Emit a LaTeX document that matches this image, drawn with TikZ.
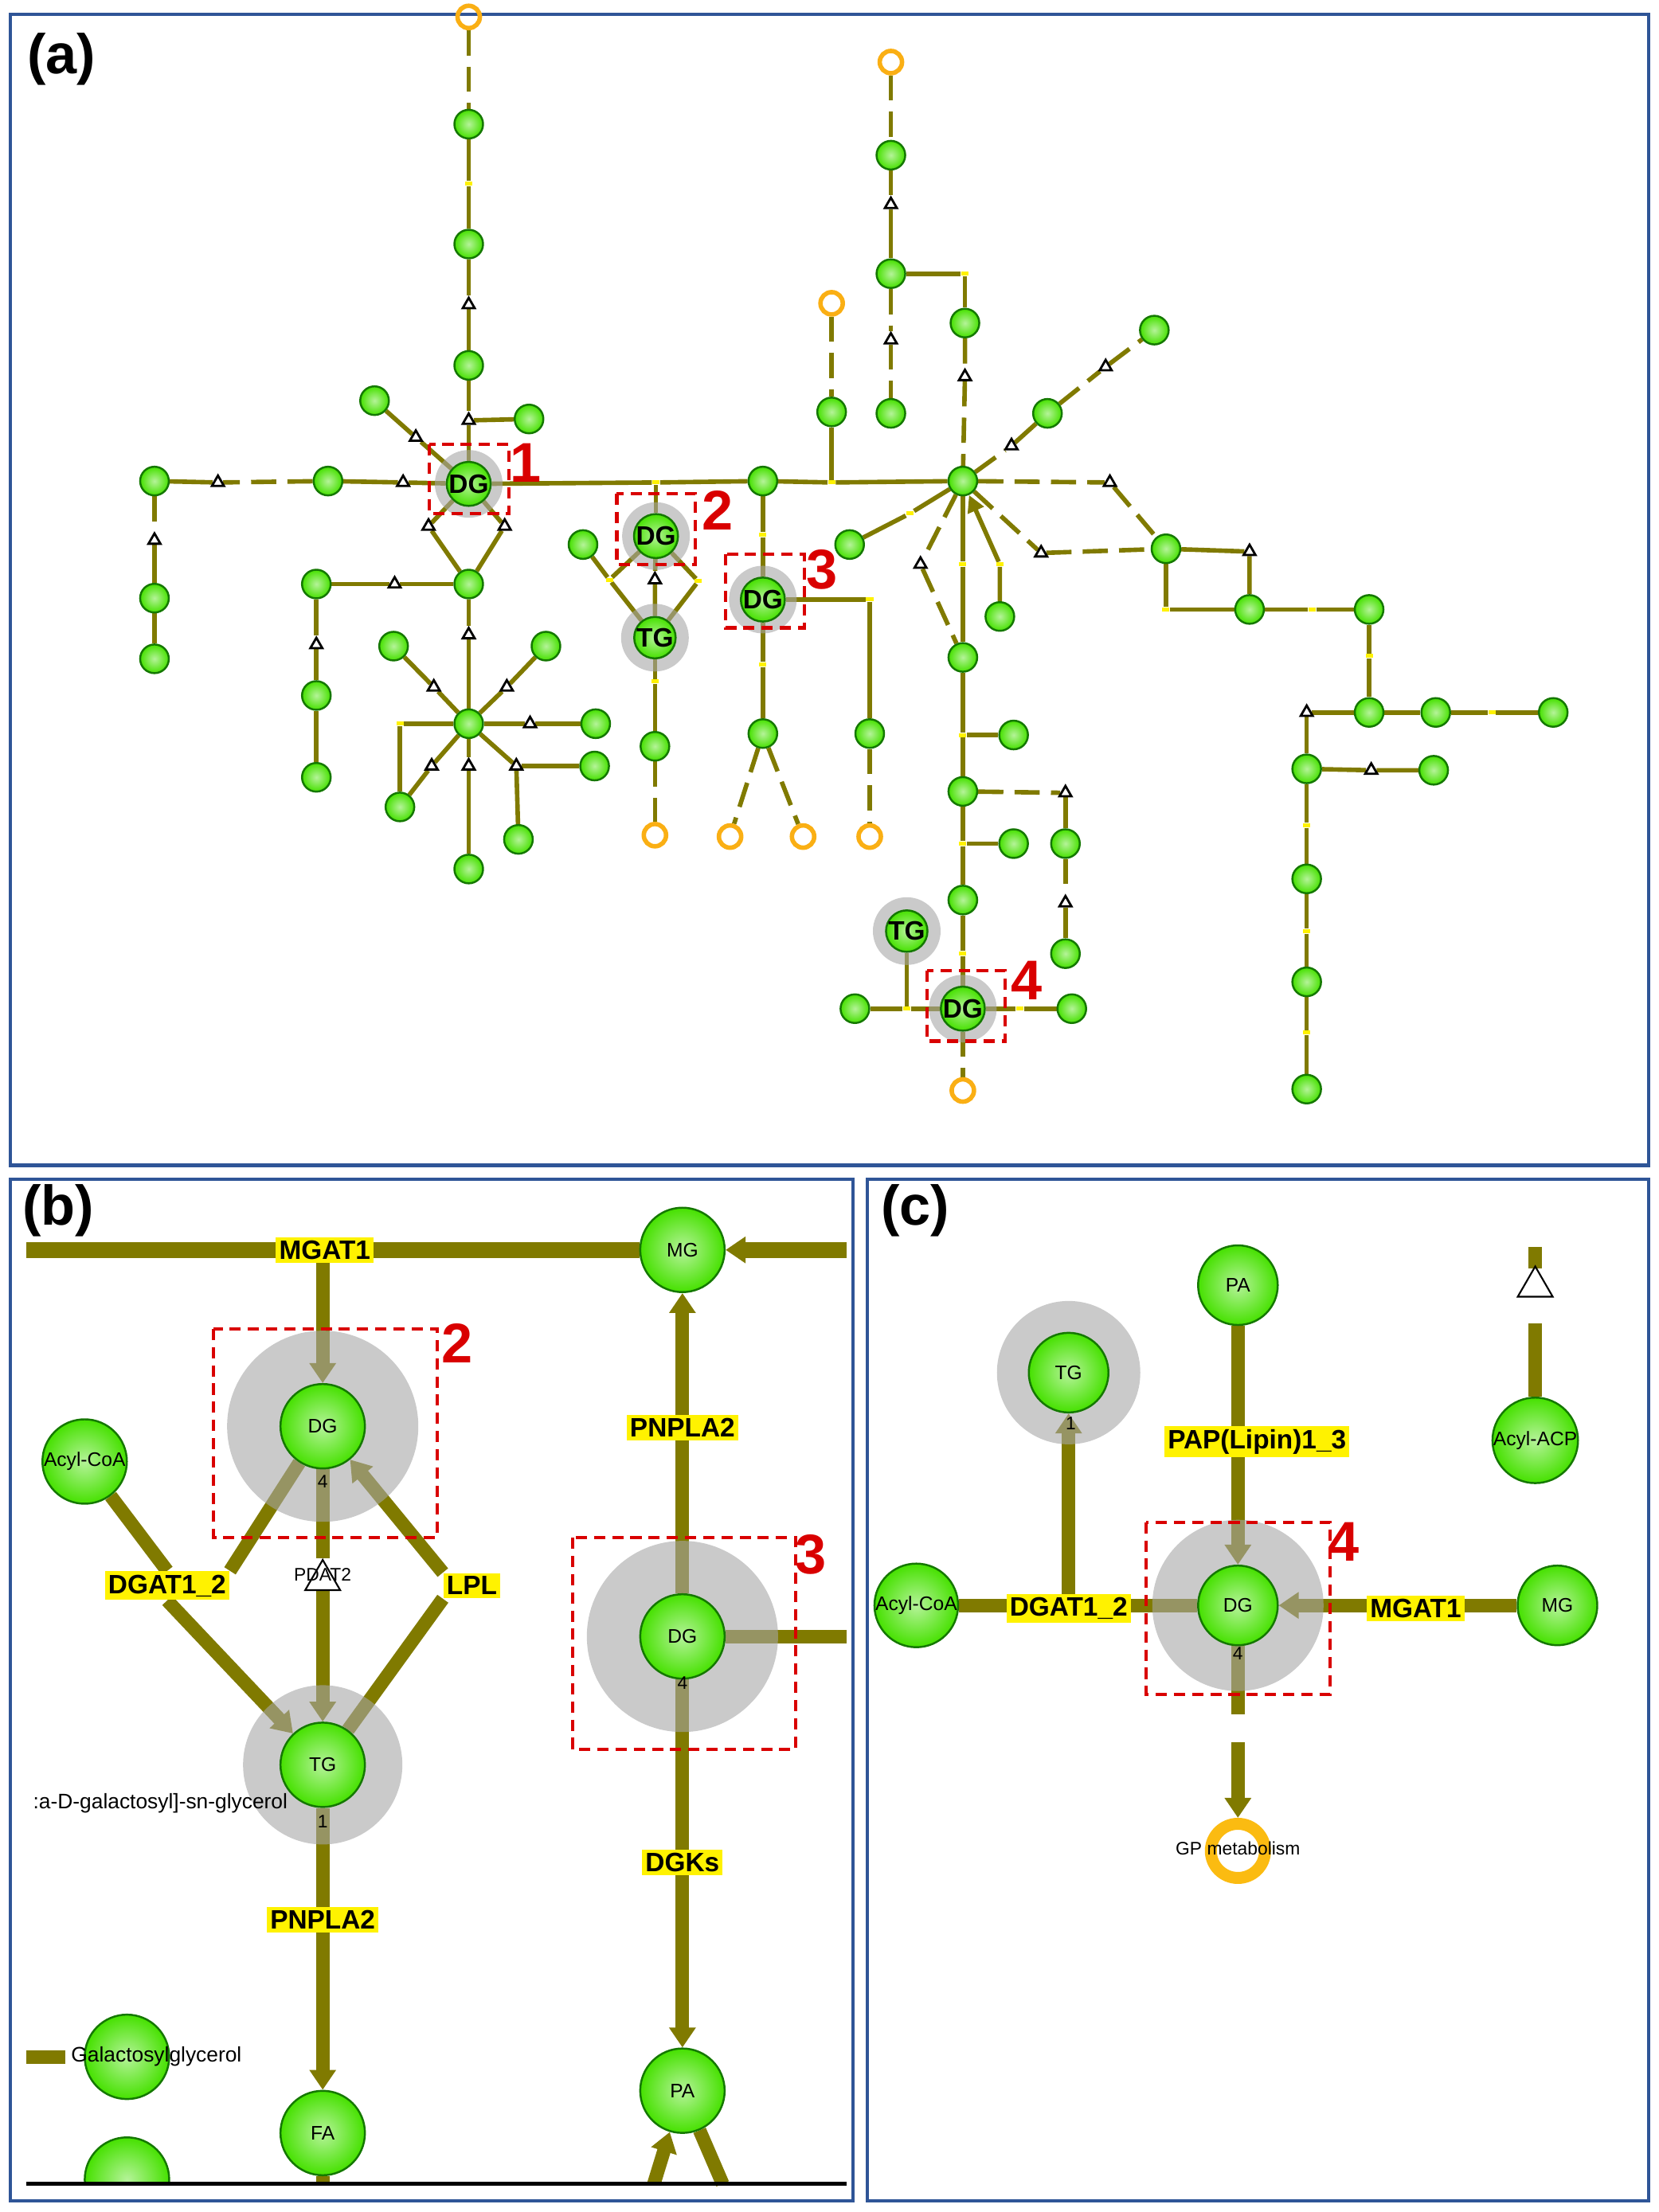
\documentclass[tikz,border=0pt]{standalone}
\usepackage{fontspec}
\setmainfont{Liberation Sans}
\usetikzlibrary{shapes.geometric,arrows.meta,backgrounds}
\definecolor{ol}{RGB}{128,122,0}
\definecolor{bbl}{RGB}{47,85,151}
\definecolor{gfill}{RGB}{70,225,0}
\definecolor{gdraw}{RGB}{20,120,0}
\definecolor{orng}{RGB}{250,175,20}
\tikzset{
 gn/.style={circle,minimum size=0.36cm,inner sep=0,shading=radial,inner color=white!60!gfill,outer color=gfill,draw=gdraw,line width=0.7pt},
 gb/.style={gn,minimum size=#1,font=\fontsize{7}{8}\selectfont},
 orn/.style={circle,minimum size=0.28cm,inner sep=0,draw=orng,line width=1.6pt},
 tri/.style={isosceles triangle,shape border rotate=90,isosceles triangle apex angle=60,draw=black,fill=white,line width=0.8pt,minimum size=0.13cm,inner sep=0},
 ym/.style={fill=yellow,minimum width=0.09cm,minimum height=0.05cm,inner sep=0},
 ee/.style={draw=ol,line width=1.6pt},
 ed/.style={ee,dash pattern=on 9pt off 4pt},
 halo/.style={circle,fill=gray!70,opacity=0.6,minimum size=#1,inner sep=0},
 big/.style={draw=ol,line width=0.17cm},
 arr/.style={big,-{Triangle[length=0.25cm,width=0.32cm]}},
 lab/.style={fill=yellow,inner sep=1.2pt,font=\bfseries\fontsize{9.5}{10}\selectfont},
 rbox/.style={draw=red!85!black,line width=1.2pt,dash pattern=on 4pt off 2.5pt},
 rnum/.style={text=red!85!black,font=\bfseries\fontsize{20}{22}\selectfont},
 plab/.style={font=\bfseries\fontsize{20}{22}\selectfont},
 panel/.style={draw=bbl,line width=1.2pt},
 dgt/.style={font=\bfseries\fontsize{9.5}{10}\selectfont}
}
\begin{document}
\begin{tikzpicture}[x=0.37795pt,y=-0.50404pt]
\useasboundingbox (0,0) rectangle (1568,1568);
% panels
\draw[panel] (10,10) rectangle (1558,826);
\draw[panel] (10,836) rectangle (806,1560);
\draw[panel] (820,836) rectangle (1558,1560);
\node[plab] (la) at (58,42) {(a)};
\node[plab] (lb) at (55,858) {(b)};
\node[plab] (lc) at (865,858) {(c)};
% ================= panel a =================
\foreach \n/\x/\y in {h1/443/343,h2/620/380,h3/721/425,h4/910/715,h5/619/452,h6/857/660}
  \node[halo=0.85cm] (\n) at (\x,\y) {};
\foreach \n/\x/\y in {a1/443/88,a2/443/173,a3/443/259,a4/500/297,a5/354/284,
 a6/310/341,a7/146/341,a8/146/424,a9/146/467,D/443/414,a10/299/414,a11/299/493,a12/299/551,
 S/443/513,a13/372/458,a14/516/458,a15/563/513,a16/378/572,a17/443/616,a18/562/543,a19/490/595,
 M/721/341,H/910/341,a20/551/386,a21/619/529,a22/822/520,a23/721/520,a24/786/292,
 a25/842/110,a26/842/194,a27/912/229,a28/842/293,a29/990/293,a30/1091/234,P/1102/389,Q/1181/432,R/1294/432,
 a31/1294/505,a32/1357/505,a33/1468/505,a34/1235/545,a35/1355/546,a36/1235/623,a37/1235/696,a38/1235/772,
 a39/803/386,T/910/466,a40/945/437,a41/958/521,a42/910/561,a43/1007/598,a44/1007/676,a45/958/598,a46/910/638,
 a47/808/715,a48/1013/715}
  \node[gn] (\n) at (\x,\y) {};
\foreach \n/\x/\y/\t in {DG1/443/343/DG,DG2/620/380/DG,DG3/721/425/DG,DG4/910/715/DG,TG2/619/452/TG,TG4/857/660/TG}
  \node[gn,dgt] (\n) at (\x,\y) {\t};
\foreach \n/\x/\y in {o1/443/12,o2/619/592,o3/822/593,o4/690/593,o5/759/593,o6/786/215,o7/842/44,o8/910/773}
  \node[orn] (\n) at (\x,\y) {};
\foreach \n/\x/\y in {t1/443/216,t2/443/298,t3/393/310,t4/381/342,t5/206/342,t6/146/383,t7/405/373,t8/477/373,
 t9/373/414,t10/299/457,t11/443/450,t12/410/487,t13/479/487,t14/501/513,t15/408/543,t16/443/543,t17/488/543,
 t18/619/411,t19/842/145,t20/912/267,t21/842/241,t22/956/316,t23/1045/260,t24/1049/342,t25/984/392,
 t26/1181/391,t27/1235/505,t28/1296/546,t29/870/400,t30/1007/562,t31/1007/640}
  \node[tri] (\n) at (\x,\y) {};
\foreach \n/\x/\y in {y1/443/130,y2/378/513,y3/620/342,y4/786/342,y5/576/411,y6/660/412,y7/619/483,y8/721/379,
 y9/822/425,y10/721/471,y11/912/194,y12/1102/432,y13/1240/432,y14/1294/465,y15/1410/505,y16/1235/585,
 y17/1235/660,y18/1235/732,y19/860/364,y20/910/400,y21/945/400,y22/910/521,y23/910/598,y24/910/676,
 y25/857/715,y26/964/715}
  \node[ym] (\n) at (\x,\y) {};
\begin{pgfonlayer}{background}
\draw[ed] (o1)--(a1);
\draw[ee] (a1)--(y1)--(a2)--(t1)--(a3)--(t2)--(DG1);
\draw[ee] (t2)--(a4); \draw[ee] (a5)--(t3)--(DG1);
\draw[ee] (DG1)--(t4)--(a6); \draw[ed] (a6)--(t5); \draw[ee] (t5)--(a7);
\draw[ed] (a7)--(t6); \draw[ee] (t6)--(a8)--(a9);
\draw[ee] (DG1)--(t7)--(D); \draw[ee] (DG1)--(t8)--(D);
\draw[ee] (D)--(t9)--(a10); \draw[ee] (a10)--(t10)--(a11)--(a12);
\draw[ee] (D)--(t11)--(S);
\draw[ee] (S)--(t12)--(a13); \draw[ee] (S)--(t13)--(a14); \draw[ee] (S)--(t14)--(a15);
\draw[ee] (S)--(y2)--(a16); \draw[ee] (S)--(t15)--(a16); \draw[ee] (S)--(t16)--(a17);
\draw[ee] (S)--(t17)--(a18); \draw[ee] (t17)--(a19);
\draw[ee] (DG1)--(y3)--(M)--(y4)--(H);
\draw[ee] (y3)--(DG2);
\draw[ee] (a20)--(y5)--(TG2); \draw[ee] (DG2)--(y5); \draw[ee] (DG2)--(y6)--(TG2); \draw[ee] (DG2)--(t18)--(TG2);
\draw[ee] (TG2)--(y7)--(a21); \draw[ed] (a21)--(o2);
\draw[ee] (M)--(y8)--(DG3); \draw[ee] (DG3)--(y9)--(a22); \draw[ed] (a22)--(o3);
\draw[ee] (DG3)--(y10)--(a23); \draw[ed] (a23)--(o4); \draw[ed] (a23)--(o5);
\draw[ed] (o6)--(a24); \draw[ee] (a24)--(y4);
\draw[ed] (o7)--(a25); \draw[ee] (a25)--(t19)--(a26); \draw[ee] (a26)--(y11)--(a27);
\draw[ed] (a27)--(t20)--(H); \draw[ed] (a26)--(t21)--(a28);
\draw[ed] (H)--(t22); \draw[ee] (t22)--(a29); \draw[ed] (a29)--(t23)--(a30);
\draw[ed] (H)--(t24)--(P); \draw[ed] (H)--(t25)--(P);
\draw[ee] (P)--(t26)--(Q); \draw[ee] (P)--(y12)--(Q); \draw[ee] (Q)--(y13)--(R);
\draw[ee] (R)--(y14)--(a31); \draw[ee] (a31)--(t27)--(a34); \draw[ee] (a31)--(a32)--(y15)--(a33);
\draw[ee] (a34)--(t28)--(a35);
\draw[ee] (a34)--(y16)--(a36)--(y17)--(a37)--(y18)--(a38);
\draw[ee] (H)--(y19)--(a39);
\draw[ed] (H)--(t29)--(T); \draw[ee] (H)--(y20)--(T);
\draw[ee,-{Triangle[length=6pt,width=6pt]}] (a40)--(y21)--(H);
\draw[ee] (T)--(y22)--(a42); \draw[ee] (y22)--(a41);
\draw[ed] (a42)--(t30); \draw[ee] (t30)--(a43); \draw[ed] (a43)--(t31); \draw[ee] (t31)--(a44);
\draw[ee] (a42)--(y23)--(a46)--(y24)--(DG4); \draw[ee] (y23)--(a45);
\draw[ee] (TG4)--(y25); \draw[ee] (a47)--(y25)--(DG4)--(y26)--(a48);
\draw[ed] (DG4)--(o8);
\end{pgfonlayer}
\draw[rbox] (406,315) rectangle (481,364); \node[rnum] (n1) at (497,328) {1};
\draw[rbox] (583,350) rectangle (657,400); \node[rnum] (n2) at (678,362) {2};
\draw[rbox] (686,393) rectangle (760,445); \node[rnum] (n3) at (777,404) {3};
\draw[rbox] (876,688) rectangle (950,738); \node[rnum] (n4) at (970,695) {4};
% ================= panel b =================
\coordinate (bL) at (25,886); \coordinate (bR) at (800,886); \coordinate (bR3) at (800,1160);
\coordinate (bB1) at (618,1548); \coordinate (bB2) at (683,1548); \coordinate (bFB) at (305,1548);
\coordinate (bS1) at (25,1458); \coordinate (bS2) at (62,1458);
\coordinate (bM1) at (305,886);
\node[halo=2.4cm] (bh1) at (305,1011) {};
\node[halo=2.0cm] (bh2) at (305,1251) {};
\node[halo=2.4cm] (bh3) at (645,1160) {};
\node[gb=1.06cm] (bMG) at (645,886) {MG};
\node[gb=1.06cm] (bDG) at (305,1011) {DG};
\node[gb=1.06cm] (bAC) at (80,1036) {Acyl-CoA};
\node[gb=1.06cm] (bTG) at (305,1251) {TG};
\node[gb=1.06cm] (bFA) at (305,1512) {FA};
\node[gb=1.06cm] (bDG3) at (645,1160) {DG};
\node[gb=1.06cm] (bPA) at (645,1482) {PA};
\node[gb=1.06cm] (bGal) at (120,1458) {};
\begin{scope}
\clip (12,1400) rectangle (806,1548);
\node[gb=1.06cm] (bG2) at (120,1545) {};
\end{scope}
\node[lab] (bMGAT1) at (307,886) {MGAT1};
\node[lab] (bDGAT) at (158,1124) {DGAT1\_2};
\node[tri,minimum size=0.38cm,line width=0.6pt] (bPDAT) at (305,1120) {};
\node[font=\fontsize{6.5}{7}\selectfont] (bPDATt) at (305,1116) {PDAT2};
\node[lab] (bLPL) at (446,1124) {LPL};
\node[lab] (bPN1) at (305,1361) {PNPLA2};
\node[lab] (bPN2) at (645,1012) {PNPLA2};
\node[lab] (bDGK) at (645,1320) {DGKs};
\node[font=\fontsize{6.5}{7}\selectfont] (bn1) at (305,1050) {4};
\node[font=\fontsize{6.5}{7}\selectfont] (bn2) at (305,1291) {1};
\node[font=\fontsize{6.5}{7}\selectfont] (bn3) at (645,1193) {4};
\node[font=\fontsize{7.5}{8}\selectfont,anchor=west] (bgt) at (22,1278) {:a-D-galactosyl]-sn-glycerol};
\node[font=\fontsize{7.5}{8}\selectfont,anchor=west] (bgal) at (58,1458) {Galactosylglycerol};
\begin{pgfonlayer}{background}
\draw[big,line width=0.2cm] (bL)--(bMG);
\draw[arr,line width=0.2cm] (bR)--(bMG);
\draw[arr] (bM1)--(bDG);
\draw[big] (bDG)--(bDGAT.north east); \draw[big] (bAC)--(bDGAT.north);
\draw[arr] (bDGAT.south)--(bTG);
\draw[big] (bDG)--(bPDAT); \draw[arr] (bPDAT)--(bTG);
\draw[big] (bTG)--(bLPL.south west); \draw[arr] (bLPL.north west)--(bDG);
\draw[arr] (bTG)--(bFA); \draw[big] (bFA)--(bFB);
\draw[arr] (bDG3)--(bMG);
\draw[big] (bDG3)--(bR3);
\draw[arr] (bDG3)--(bPA);
\draw[arr] (bB1)--(bPA); \draw[big] (bPA)--(bB2);
\draw[big] (bS1)--(bS2);
\end{pgfonlayer}
\fill[white] (20,1550) rectangle (802,1558);
\draw[black,line width=1.2pt] (25,1548)--(800,1548);
\draw[rbox] (202,942) rectangle (413,1090); \node[rnum] (bnum2) at (432,952) {2};
\draw[rbox] (541,1090) rectangle (752,1240); \node[rnum] (bnum3) at (766,1102) {3};
% ================= panel c =================
\coordinate (cD1) at (1170,1215); \coordinate (cD2) at (1170,1235);
\coordinate (cK1) at (1451,884); \coordinate (cK2) at (1451,899); \coordinate (cK3) at (1451,938);
\coordinate (cT1) at (1010,1138);
\node[halo=1.8cm] (ch1) at (1010,973) {};
\node[halo=2.15cm] (ch2) at (1170,1138) {};
\node[gb=1.0cm] (cPA) at (1170,911) {PA};
\node[gb=1.0cm] (cTG) at (1010,973) {TG};
\node[gb=1.0cm] (cDG) at (1170,1138) {DG};
\node[gb=1.0cm] (cAC) at (866,1138) {Acyl-CoA};
\node[gb=1.0cm] (cMG) at (1472,1138) {MG};
\node[gb=1.0cm] (cACP) at (1451,1021) {Acyl-ACP};
\node[lab] (cDGAT) at (1010,1140) {DGAT1\_2};
\node[lab] (cMGAT) at (1338,1140) {MGAT1};
\node[lab] (cPAP) at (1188,1022) {PAP(Lipin)1\_3};
\node[circle,draw=orng!85!yellow,line width=0.15cm,minimum size=0.68cm,inner sep=0] (cGP) at (1170,1312) {};
\node[font=\fontsize{6.5}{7}\selectfont] (cGPt) at (1170,1310) {GP metabolism};
\node[tri,minimum size=0.38cm,line width=0.6pt] (cDGK) at (1451,912) {};
\node[font=\fontsize{6.5}{7}\selectfont] (cn1) at (1012,1009) {1};
\node[font=\fontsize{6.5}{7}\selectfont] (cn2) at (1170,1172) {4};
\begin{pgfonlayer}{background}
\draw[big] (cAC)--(cDG);
\draw[arr] (cT1)--(cTG);
\draw[arr] (cMG)--(cDG);
\draw[arr] (cPA)--(cDG);
\draw[big] (cDG)--(cD1); \draw[arr] (cD2)--(cGP);
\draw[big] (cK1)--(cK2); \draw[big] (cK3)--(cACP);
\end{pgfonlayer}
\draw[rbox] (1083,1079) rectangle (1257,1201); \node[rnum] (cnum4) at (1270,1093) {4};
\end{tikzpicture}
\end{document}
